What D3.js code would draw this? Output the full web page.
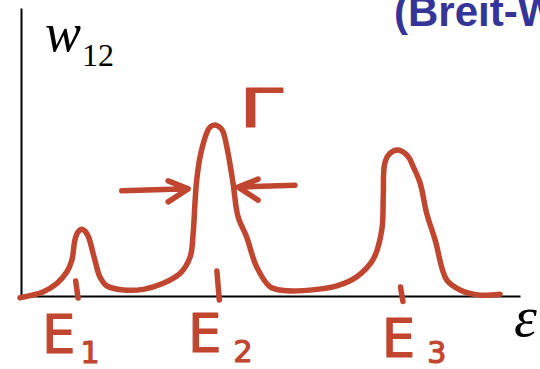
<!DOCTYPE html>
<html lang="en">
<head>
    <meta charset="UTF-8">
    <title>Breit-Wigner resonances</title>
    <script src="https://d3js.org/d3.v7.min.js"></script>
    <style>
        body {
            margin: 0;
            background: #fff;
        }
        .axis path {
            stroke: #000;
            stroke-width: 2px;
        }
        .curve {
            fill: none;
            stroke: #c0462f;
            stroke-width: 5.5px;
            stroke-linecap: round;
            stroke-linejoin: round;
        }
        .hand {
            fill: #c0462f;
            stroke: #c0462f;
            stroke-width: 1.2px;
            stroke-linejoin: round;
            font-family: "DejaVu Sans", sans-serif;
        }
    </style>
</head>
<body>
    <svg id="chart"></svg>

    <script>
        // hand-drawn spectrum (energy, rate)
        const energy = [-0.02, 0.45, 0.72, 0.92, 1.02, 1.08, 1.14, 1.22, 1.28, 1.35, 1.48, 1.58, 1.72, 2.05, 2.45, 2.85, 3.19, 3.39, 3.45, 3.49, 3.52, 3.59, 3.72, 3.79, 3.89, 3.99, 4.05, 4.15, 4.25, 4.35, 4.52, 4.72, 4.99, 5.26, 5.93, 6.33, 6.73, 7.06, 7.23, 7.26, 7.29, 7.39, 7.56, 7.76, 7.86, 8.00, 8.13, 8.30, 8.53, 8.80, 9.20, 9.60];
        const rate = [-0.006, 0.015, 0.044, 0.084, 0.125, 0.194, 0.222, 0.232, 0.226, 0.206, 0.125, 0.067, 0.035, 0.021, 0.023, 0.044, 0.079, 0.136, 0.218, 0.333, 0.40, 0.484, 0.565, 0.587, 0.594, 0.585, 0.570, 0.495, 0.391, 0.275, 0.206, 0.102, 0.032, 0.019, 0.023, 0.035, 0.067, 0.128, 0.229, 0.345, 0.461, 0.495, 0.507, 0.484, 0.449, 0.391, 0.287, 0.194, 0.056, 0.021, 0.003, 0.006];

        // resonance energies and their labels
        const levels = ["E", "E", "E"];
        const levelIndex = ["1", "2", "3"];
        const levelEnergy = [1.12, 3.95, 7.63];

        // width markers (arrows) either side of the middle peak
        const arrowTail = [2.02, 5.49];
        const arrowTip = [3.35, 4.35];
        const arrowLevel = [0.372, 0.378];

        const width = 540;
        const height = 369;

        const svg = d3.select("#chart")
            .attr("width", width)
            .attr("height", height);

        const x = d3.scaleLinear().domain([0, 10]).range([21, 520]);
        const y = d3.scaleLinear().domain([0, 1]).range([296, 8]);

        // axes: bare lines, no ticks
        svg.append("g")
            .attr("class", "axis")
            .attr("transform", "translate(0," + y(0) + ")")
            .call(d3.axisBottom(x).ticks(0).tickSizeOuter(0));

        svg.append("g")
            .attr("class", "axis")
            .attr("transform", "translate(" + x(0) + ",0)")
            .call(d3.axisLeft(y).ticks(0).tickSizeOuter(0));

        // the curve
        const points = energy.map((e, i) => [e, rate[i]]);
        const line = d3.line()
            .x(d => x(d[0]))
            .y(d => y(d[1]))
            .curve(d3.curveCatmullRom.alpha(0.5));

        svg.append("path")
            .datum(points)
            .attr("class", "curve")
            .attr("d", line);

        // small marks at each resonance
        const markTop = [0.052, 0.087, 0.031];
        const markBottom = [-0.007, -0.014, -0.019];
        levelEnergy.forEach((e, i) => {
            svg.append("line")
                .attr("class", "curve")
                .attr("x1", x(e) - 1.2)
                .attr("y1", y(markTop[i]))
                .attr("x2", x(e) + 1.2)
                .attr("y2", y(markBottom[i]));
        });

        // E1, E2, E3 labels
        const labelShift = [-35, -30, -20];
        const labelDrop = [353, 352, 357];
        const subShift = [5, 12, 12];
        const subDrop = [10, 10, 6];
        levels.forEach((t, i) => {
            const txt = svg.append("text")
                .attr("class", "hand")
                .attr("x", x(levelEnergy[i]) + labelShift[i])
                .attr("y", labelDrop[i])
                .attr("font-size", 53)
                .text(t);
            txt.append("tspan")
                .attr("font-size", 30)
                .attr("dx", subShift[i])
                .attr("dy", subDrop[i])
                .text(levelIndex[i]);
        });

        // width arrows
        arrowTail.forEach((t, i) => {
            const x0 = x(t), x1 = x(arrowTip[i]), yy = y(arrowLevel[i]);
            const dir = x1 > x0 ? 1 : -1;
            svg.append("path")
                .attr("class", "curve")
                .attr("d", "M" + x0 + "," + (yy + 2 * dir) + "L" + x1 + "," + yy
                    + "M" + (x1 - 20 * dir) + "," + (yy - 8) + "L" + x1 + "," + yy
                    + "L" + (x1 - 20 * dir) + "," + (yy + 13));
        });

        // Gamma above the middle peak
        svg.append("text")
            .attr("class", "hand")
            .attr("x", 239)
            .attr("y", 127)
            .attr("font-size", 54)
            .attr("stroke-width", 0.4)
            .attr("textLength", 44)
            .attr("lengthAdjust", "spacingAndGlyphs")
            .text("Γ");

        // y label w12
        const ylab = svg.append("text")
            .attr("x", 45)
            .attr("y", 51)
            .attr("font-family", "Liberation Serif, serif")
            .attr("font-style", "italic")
            .attr("font-size", 54)
            .text("w");
        ylab.append("tspan")
            .attr("font-style", "normal")
            .attr("font-size", 32)
            .attr("dx", 1)
            .attr("dy", 15)
            .text("12");

        // x label
        svg.append("text")
            .attr("x", 514)
            .attr("y", 336)
            .attr("font-family", "Liberation Serif, serif")
            .attr("font-style", "italic")
            .attr("font-size", 58)
            .text("ε");

        // title, cut off by the frame
        svg.append("text")
            .attr("x", 394)
            .attr("y", 26)
            .attr("font-family", "Liberation Sans, Arial, sans-serif")
            .attr("font-weight", "bold")
            .attr("font-size", 42)
            .attr("fill", "#343499")
            .text("(Breit-Wigner)");
    </script>
</body>
</html>
